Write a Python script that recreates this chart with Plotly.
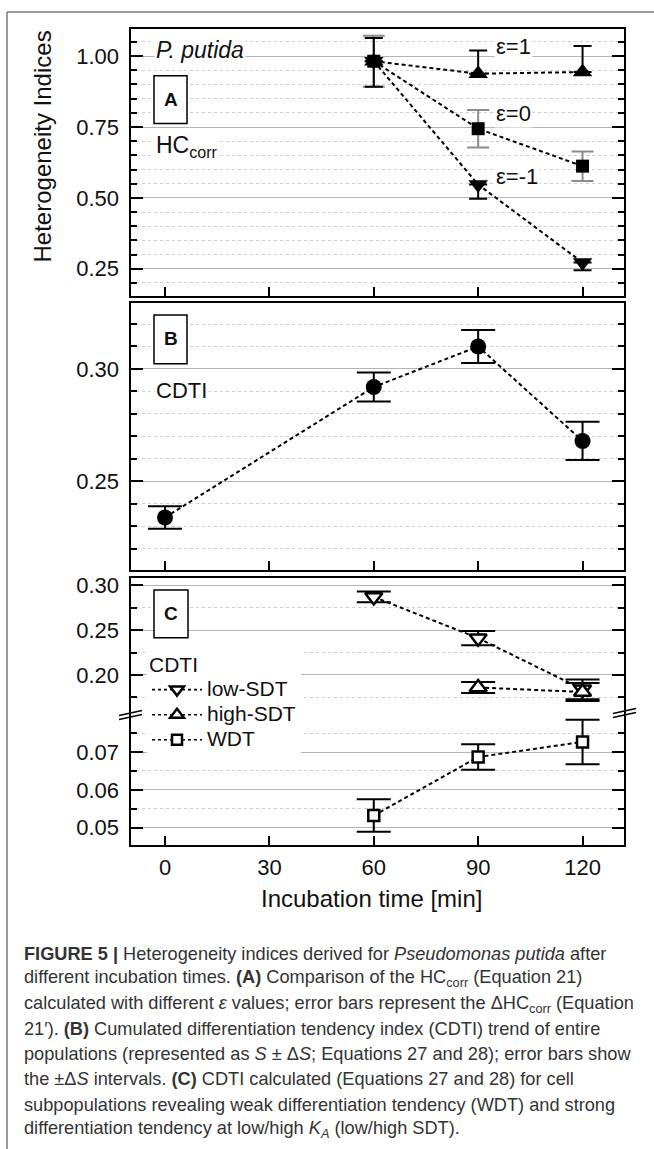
import plotly.graph_objects as go

W, H = 654, 1149
def fx(p): return p / W
def fy(p): return 1 - p / H

# ---------------- data ----------------
time_A = [60, 90, 120]
hc_eps_pos1 = [0.982, 0.938, 0.944]
hc_eps_pos1_err = [0.082, 0.082, 0.092]
hc_eps_0 = [0.982, 0.744, 0.612]
hc_eps_0_err = [0.09, 0.066, 0.052]
hc_eps_neg1 = [0.982, 0.547, 0.272]
hc_eps_neg1_err = [0.09, 0.05, 0.027]

time_B = [0, 60, 90, 120]
cdti_total = [0.234, 0.292, 0.310, 0.268]
cdti_total_err = [0.005, 0.0064, 0.0073, 0.0085]

time_low = [60, 90, 120]
cdti_low = [0.287, 0.241, 0.184]
cdti_low_err = [0.006, 0.008, 0.011]
time_high = [90, 120]
cdti_high = [0.186, 0.181]
cdti_high_err = [0.006, 0.010]
time_wdt = [60, 90, 120]
cdti_wdt = [0.0532, 0.0687, 0.0727]
cdti_wdt_err = [0.0043, 0.0034, 0.0059]

x_ticks = [0, 30, 60, 90, 120]
yA_ticks = [0.25, 0.50, 0.75, 1.00]
yB_ticks = [0.25, 0.30]
yC_up_ticks = [0.20, 0.25, 0.30]
yC_lo_ticks = [0.05, 0.06, 0.07]

FONT = "Liberation Sans, Arial, sans-serif"
DASH = "4px,3px"
LW = 2
BLACK = "#000000"
GRAY_ERR = "#8c8c8c"

fig = go.Figure()

# ---------- Panel A ----------
fig.add_trace(go.Scatter(
    x=time_A, y=hc_eps_0, mode="lines+markers", xaxis="x", yaxis="y",
    line=dict(color=BLACK, width=LW, dash=DASH),
    marker=dict(symbol="square", size=13, color=BLACK),
    error_y=dict(type="data", array=hc_eps_0_err, color=GRAY_ERR, thickness=2, width=11),
    showlegend=False))
fig.add_trace(go.Scatter(
    x=time_A, y=hc_eps_pos1, mode="lines+markers", xaxis="x", yaxis="y",
    line=dict(color=BLACK, width=LW, dash=DASH),
    marker=dict(symbol="triangle-up", size=17, color=BLACK),
    error_y=dict(type="data", symmetric=False, array=hc_eps_pos1_err,
                 arrayminus=[0] * len(hc_eps_pos1), color=BLACK, thickness=2, width=9),
    showlegend=False))
fig.add_trace(go.Scatter(
    x=time_A, y=hc_eps_neg1, mode="lines+markers", xaxis="x", yaxis="y",
    line=dict(color=BLACK, width=LW, dash=DASH),
    marker=dict(symbol="triangle-down", size=17, color=BLACK),
    error_y=dict(type="data", symmetric=False, array=[0] * len(hc_eps_neg1),
                 arrayminus=hc_eps_neg1_err, color=BLACK, thickness=2, width=9),
    showlegend=False))

# ---------- Panel B ----------
fig.add_trace(go.Scatter(
    x=time_B, y=cdti_total, mode="lines+markers", xaxis="x2", yaxis="y2",
    line=dict(color=BLACK, width=LW, dash=DASH),
    marker=dict(symbol="circle", size=16, color=BLACK),
    error_y=dict(type="data", array=cdti_total_err, color=BLACK, thickness=2, width=17),
    showlegend=False))

# ---------- Panel C ----------
open_line = dict(color=BLACK, width=2.5)
series_C = [
    ("low-SDT", time_low, cdti_low, cdti_low_err, "triangle-down", 15, "x3", "y3"),
    ("high-SDT", time_high, cdti_high, cdti_high_err, "triangle-up", 15, "x3", "y3"),
    ("WDT", time_wdt, cdti_wdt, cdti_wdt_err, "square", 11, "x4", "y4"),
]
for name, xs, ys, es, sym, sz, xa, ya in series_C:
    fig.add_trace(go.Scatter(
        x=xs, y=ys, mode="lines+markers", xaxis=xa, yaxis=ya,
        name=name, legendgroup=name, showlegend=False,
        line=dict(color=BLACK, width=LW, dash=DASH),
        marker=dict(symbol=sym, size=sz, color="white", line=open_line),
        error_y=dict(type="data", array=es, color=BLACK, thickness=2, width=17)))

# legend entries (no data; they only carry the legend symbol styling)
legend_sizes = {"triangle-down": 12, "triangle-up": 12, "square": 10}
for name, xs, ys, es, sym, sz, xa, ya in series_C:
    fig.add_trace(go.Scatter(
        x=[None], y=[None], mode="lines+markers", xaxis=xa, yaxis=ya,
        name=f"<span style='font-size:21px'>{name}</span>", legendgroup=name,
        showlegend=True,
        line=dict(color=BLACK, width=1.6, dash="3px,3px"),
        marker=dict(symbol=sym, size=legend_sizes[sym], color="white",
                    line=dict(color=BLACK, width=2.5))))

# ---------- axes ----------
XDOM = [fx(130), fx(625)]
XRANGE = [-10.06, 132.2]

def xax(anchor, ticks="inside", labels=False):
    return dict(domain=XDOM, range=XRANGE, anchor=anchor, tickvals=x_ticks,
                ticks=ticks, ticklen=10, tickwidth=1.5, tickcolor=BLACK,
                showgrid=False, zeroline=False, showline=False,
                showticklabels=labels, tickfont=dict(family=FONT, size=22, color="#111"),
                ticklabelstandoff=6)

def yax(anchor, top, bottom, rng, tickvals, minor_vals):
    return dict(domain=[fy(bottom), fy(top)], range=rng, anchor=anchor,
                tickvals=tickvals, ticktext=[f"{v:.2f}" for v in tickvals],
                ticks="inside", ticklen=13, tickwidth=1.5, tickcolor=BLACK,
                mirror="ticks", showline=False, zeroline=False,
                showgrid=True, gridcolor="#b4b4b4", gridwidth=1,
                tickfont=dict(family=FONT, size=22, color="#111"),
                ticklabelstandoff=10,
                minor=dict(tickvals=minor_vals, ticks="inside", ticklen=7, tickwidth=1.5,
                           tickcolor=BLACK, showgrid=True, gridcolor="#cfcfcf",
                           griddash="dot", gridwidth=1))

fig.update_layout(
    xaxis=xax("y"),
    yaxis=yax("x", 24, 294, [0.1505, 1.0995], yA_ticks,
              [0.20, 0.30, 0.35, 0.40, 0.45, 0.55, 0.60, 0.65, 0.70, 0.80, 0.85, 0.90, 0.95, 1.05]),
    xaxis2=xax("y2"),
    yaxis2=yax("x2", 299, 569, [0.2102, 0.3298], yB_ticks,
               [0.22, 0.23, 0.24, 0.26, 0.27, 0.28, 0.29, 0.31, 0.32]),
    xaxis3=xax("y3", ticks=""),
    yaxis3=yax("x3", 575, 711, [0.1581, 0.3092], yC_up_ticks, [0.175, 0.225, 0.275]),
    xaxis4=xax("y4", labels=True),
    yaxis4=yax("x4", 711, 845, [0.0451, 0.0805], yC_lo_ticks, [0.055, 0.065, 0.075]),
)

# ---------- shapes ----------
shapes = []
def rect(x0, y0, x1, y1, width=2, fill="rgba(0,0,0,0)"):
    return dict(type="rect", xref="paper", yref="paper", x0=fx(x0), x1=fx(x1),
                y0=fy(y1), y1=fy(y0), line=dict(color=BLACK, width=width),
                fillcolor=fill, layer="above")
def seg(x0, y0, x1, y1, color=BLACK, width=1.5):
    return dict(type="line", xref="paper", yref="paper", x0=fx(x0), x1=fx(x1),
                y0=fy(y0), y1=fy(y1), line=dict(color=color, width=width), layer="above")

shapes += [rect(130, 24, 625, 294), rect(130, 299, 625, 569), rect(130, 575, 625, 845)]
# panel label boxes
shapes += [rect(154, 72, 187, 120, 1.5, "white"),
           rect(154, 312, 187, 361, 1.5, "white"),
           rect(154, 588, 188, 636, 1.5, "white")]
# axis break marks
shapes += [seg(119, 714, 142, 709), seg(119, 718, 142, 713),
           seg(613, 712, 636, 707), seg(613, 716, 636, 711)]
# outer figure frame
shapes += [seg(7, 8, 654, 8, "#7a7a7a", 1.5), seg(7, 8, 7, 1149, "#7a7a7a", 1.5)]

# ---------- annotations ----------
ann = []
def text(x, y, s, size=22, xanchor="left", bg=None, angle=0, color="#111", **kw):
    d = dict(x=fx(x), y=fy(y), xref="paper", yref="paper", text=s, showarrow=False,
             xanchor=xanchor, yanchor="middle", textangle=angle,
             font=dict(family=FONT, size=size, color=color))
    if bg:
        d["bgcolor"] = bg
    d.update(kw)
    return d

ann += [text(154, 46, "<i>P. putida</i>", 23, bg="white"),
        text(170.5, 96, "<b>A</b>", 19, xanchor="center"),
        text(154, 143, "HC<sub>corr</sub>", 23, bg="white"),
        text(494, 43, "ε=1", 22, bg="white"),
        text(494, 110, "ε=0", 22, bg="white"),
        text(494, 173, "ε=-1", 22, bg="white"),
        text(170.5, 336, "<b>B</b>", 19, xanchor="center"),
        text(154, 388, "CDTI", 22, bg="white"),
        text(171, 612, "<b>C</b>", 19, xanchor="center"),
        text(43, 143, "Heterogeneity Indices", 24, xanchor="center", angle=-90),
        text(371, 898, "Incubation time [min]", 24, xanchor="center")]

caption = [
    "<b>FIGURE 5 |</b> Heterogeneity indices derived for <i>Pseudomonas putida</i> after",
    "different incubation times. <b>(A)</b> Comparison of the HC<sub>corr</sub> (Equation 21)",
    "calculated with different <i>ε</i> values; error bars represent the ΔHC<sub>corr</sub> (Equation",
    "21′). <b>(B)</b> Cumulated differentiation tendency index (CDTI) trend of entire",
    "populations (represented as <i>S</i> ± Δ<i>S</i>; Equations 27 and 28); error bars show",
    "the ±Δ<i>S</i> intervals. <b>(C)</b> CDTI calculated (Equations 27 and 28) for cell",
    "subpopulations revealing weak differentiation tendency (WDT) and strong",
    "differentiation tendency at low/high <i>K<sub>A</sub></i> (low/high SDT).",
]
cap_y = [953, 978, 1004, 1029, 1054, 1079, 1105, 1129]
for s, yy in zip(caption, cap_y):
    ann.append(text(22, yy, s, 18.2, color="#333"))

fig.update_layout(
    width=W, height=H, margin=dict(l=0, r=0, t=0, b=0),
    paper_bgcolor="white", plot_bgcolor="white",
    shapes=shapes, annotations=ann,
    legend=dict(x=fx(147), y=fy(643), xanchor="left", yanchor="top",
                bgcolor="white", borderwidth=0, itemwidth=50,
                font=dict(family=FONT, size=17, color="#111"),
                title=dict(text="CDTI", font=dict(family=FONT, size=21, color="#111")),
                tracegroupgap=0, itemclick=False, itemdoubleclick=False),
    font=dict(family=FONT),
)

fig.write_html("out.html")
